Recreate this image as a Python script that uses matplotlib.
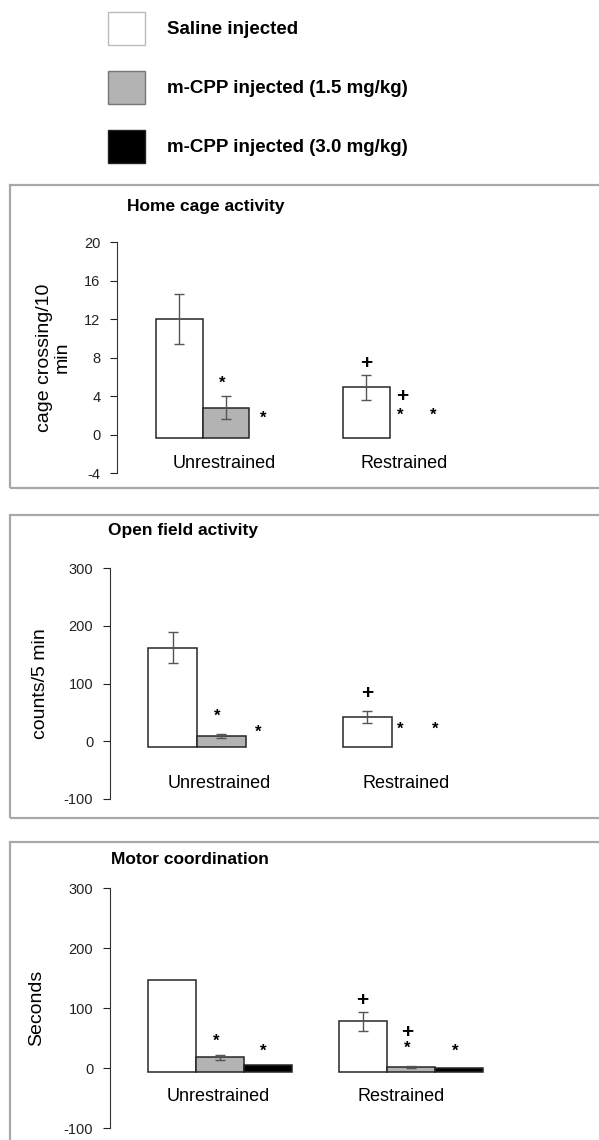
import numpy as np
import matplotlib
matplotlib.use('Agg')
import matplotlib.pyplot as plt
from matplotlib.patches import Rectangle, Patch

plt.rcParams['font.family'] = ['Liberation Sans', 'DejaVu Sans']
plt.rcParams['axes.unicode_minus'] = False

nan = np.nan
groups = ['Unrestrained', 'Restrained']
series = ['Saline injected', 'm-CPP injected (1.5 mg/kg)', 'm-CPP injected (3.0 mg/kg)']
fills = ['white', '#b3b3b3', 'black']

# Home cage activity (cage crossing/10 min)
home_means = [[12.0, 4.9], [2.8, nan], [nan, nan]]
home_errs = [[2.6, 1.3], [1.2, nan], [nan, nan]]
home_marks = [(-0.02, 5.3, '*'), (0.20, 1.7, '*'), (0.75, 7.4, '+'),
              (0.94, 4.0, '+'), (0.93, 2.0, '*'), (1.11, 2.0, '*')]

# Open field activity (counts/5 min)
open_means = [[162, 42], [9, nan], [nan, nan]]
open_errs = [[27, 11], [4, nan], [nan, nan]]
open_marks = [(-0.02, 43, '*'), (0.19, 15, '*'), (0.75, 83, '+'),
              (0.92, 20, '*'), (1.10, 20, '*')]

# Motor coordination (seconds)
motor_means = [[146, 78], [18, 2], [5, 0.5]]
motor_errs = [[nan, 16], [4, 2], [nan, nan]]
motor_marks = [(-0.02, 45, '*'), (0.225, 28, '*'), (0.745, 113, '+'),
               (0.98, 60, '+'), (0.98, 33, '*'), (1.23, 28, '*')]

W, H = 599, 1140
fig = plt.figure(figsize=(W / 100, H / 100), dpi=100)


def px_axes(left, top, right, bottom):
    return fig.add_axes([left / W, 1 - bottom / H, (right - left) / W, (bottom - top) / H])


def panel(box, ax_px, xlim, ylim, yticks, base, means, errs, marks,
          title, title_xy, ylabel, ylabel_x, cat_y):
    # grey frame round the panel
    x0, y0, x1, y1 = box
    fig.patches.append(Rectangle((x0 / W, 1 - y1 / H), (x1 - x0) / W, (y1 - y0) / H,
                                 transform=fig.transFigure, fill=False,
                                 edgecolor='#a8a8a8', lw=1.6))
    fig.text(title_xy[0] / W, 1 - title_xy[1] / H, title, fontsize=12.5,
             fontweight='bold', ha='left', va='center')

    ax = px_axes(*ax_px)
    width = 0.25
    for i in range(3):
        m = np.array(means[i], dtype=float)
        e = np.array(errs[i], dtype=float)
        xs = np.arange(len(groups)) + (i - 1) * width
        ok = ~np.isnan(m)
        ax.bar(xs[ok], m[ok] - base, bottom=base, width=width, color=fills[i],
               edgecolor='#262626', linewidth=1.1)
        ok_e = ok & ~np.isnan(e)
        if ok_e.any():
            ax.errorbar(xs[ok_e], m[ok_e], yerr=e[ok_e], fmt='none',
                        ecolor='#555555', elinewidth=1.0, capsize=3.5, capthick=1.0)
    for x, y, s in marks:
        if s == '+':
            ax.text(x, y, s, fontsize=15, fontweight='bold', ha='center', va='center')
        else:
            ax.text(x, y, s, fontsize=12, fontweight='bold', ha='center', va='center')
    for k, g in enumerate(groups):
        ax.text(k - 0.01 - 0.04 * k, cat_y, g, fontsize=13, ha='center', va='center')

    ax.set_xlim(*xlim)
    ax.set_ylim(*ylim)
    ax.set_yticks(yticks)
    ax.set_xticks([])
    for s in ['top', 'right', 'bottom']:
        ax.spines[s].set_visible(False)
    ax.spines['left'].set_color('#333333')
    ax.tick_params(axis='y', direction='out', length=5, width=0.8, pad=7,
                   labelsize=10.5, colors='#222222')
    ax.patch.set_alpha(0)
    ax.set_ylabel(ylabel, fontsize=14, linespacing=1.1)
    ax.yaxis.set_label_coords((ylabel_x - ax_px[0]) / (ax_px[2] - ax_px[0]), 0.5)
    return ax


# legend at the top
handles = [Patch(facecolor=f, edgecolor=ec, linewidth=1.0)
           for f, ec in zip(fills, ['#bbbbbb', '#777777', '#222222'])]
fig.legend(handles, series, loc='upper left', bbox_to_anchor=(108 / W, 1 - 12 / H),
           frameon=False, prop={'size': 13.5, 'weight': 'bold'},
           handlelength=1.97, handleheight=2.33,
           labelspacing=1.38, handletextpad=1.17, borderpad=0, borderaxespad=0)

panel((10, 185, 620, 488), (117, 242, 560, 473), (-0.583, 1.786), (-4, 20),
      [-4, 0, 4, 8, 12, 16, 20], -0.4, home_means, home_errs, home_marks,
      'Home cage activity', (127, 207), 'cage crossing/10\nmin', 71, -3)

panel((10, 515, 620, 818), (110, 568, 560, 799), (-0.572, 1.74), (-100, 300),
      [-100, 0, 100, 200, 300], -10, open_means, open_errs, open_marks,
      'Open field activity', (108, 530), 'counts/5 min', 49, -74)

panel((10, 842, 620, 1160), (110, 888, 560, 1128), (-0.576, 1.78), (-100, 300),
      [-100, 0, 100, 200, 300], -6, motor_means, motor_errs, motor_marks,
      'Motor coordination', (111, 860), 'Seconds', 45, -48)

fig.savefig('out.png', dpi=100)
